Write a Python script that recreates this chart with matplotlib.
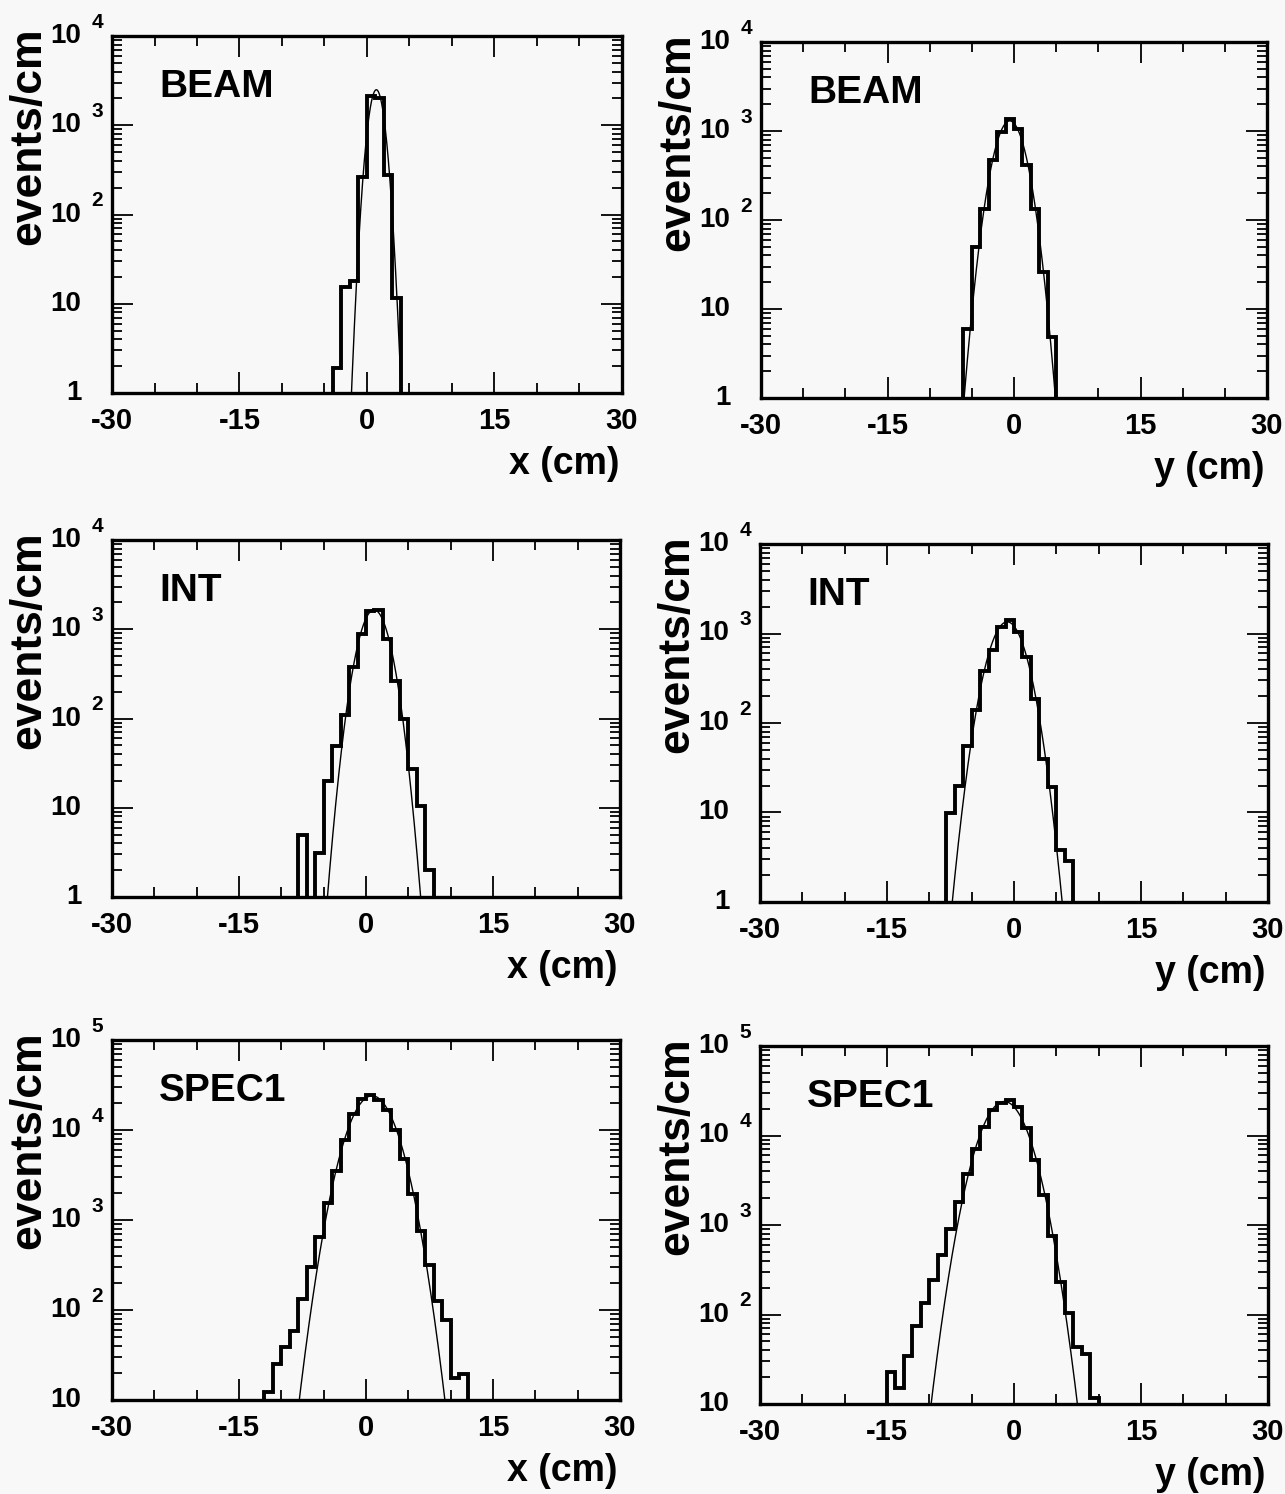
'''
Beam profiles at the BEAM, INT and SPEC1 planes, x and y, with gaussian fits.
'''

import numpy as np
import matplotlib.pyplot as plt
from matplotlib import transforms
from matplotlib.ticker import MultipleLocator, LogLocator, NullFormatter

plt.rcParams['font.family'] = ['Liberation Sans', 'DejaVu Sans']
plt.rcParams['font.weight'] = 'bold'
plt.rcParams['axes.unicode_minus'] = False

# histograms, 1 cm bins, counts (events/cm)
beam_x_start = -4
beam_x_counts = [1.9, 15.6, 18, 263, 2120, 2000, 280, 11.7]
beam_y_start = -6
beam_y_counts = [5.9, 50, 133, 470, 970, 1370, 1060, 420, 132, 26, 4.8]

int_x_start = -8
int_x_counts = [5, 0, 3.1, 19.7, 49, 110, 382, 890, 1600, 1650, 780, 260, 100, 27, 10.4, 2.0]
int_y_start = -8
int_y_counts = [9.9, 19.6, 56, 139, 380, 650, 1170, 1410, 1050, 550, 187, 40, 19.3, 3.8, 2.9]

spec1_x_start = -12
spec1_x_counts = [12.3, 25, 39, 59, 132, 298, 647, 1560, 3460, 7760, 14900, 22300,
                  24300, 21600, 16600, 10000, 4770, 1960, 760, 315, 126, 78, 17.4, 19.6]
spec1_y_start = -15
spec1_y_counts = [22.6, 15, 34, 75, 135, 245, 460, 910, 1820, 3720, 7050, 12600, 19500,
                  23200, 25000, 21000, 12000, 5300, 2150, 760, 230, 105, 43, 36, 11.7]

# gaussian fits: amplitude, mean, sigma (cm)
beam_x_fit = (2500, 1.1, 0.74)
beam_y_fit = (1300, -0.5, 1.43)
int_x_fit = (1650, 0.95, 1.43)
int_y_fit = (1350, -0.8, 1.71)
spec1_x_fit = (24000, 0.72, 2.18)
spec1_y_fit = (24000, -1.15, 2.19)

x_ticks = [-30, -15, 0, 15, 30]
x_tick_labels = ['-30', '-15', '0', '15', '30']

W, H = 1285, 1494
fig = plt.figure(figsize=(W / 100, H / 100), dpi=100)
bg = '#f8f8f8'
fig.patch.set_facecolor(bg)

# (name, axis label, start, counts, fit, decade range, [left, top, right, bottom] px)
panels = [
    ('BEAM', 'x (cm)', beam_x_start, beam_x_counts, beam_x_fit, (0, 4), [112, 36, 622, 393]),
    ('BEAM', 'y (cm)', beam_y_start, beam_y_counts, beam_y_fit, (0, 4), [761, 42, 1267, 398]),
    ('INT', 'x (cm)', int_x_start, int_x_counts, int_x_fit, (0, 4), [112, 540, 620, 897]),
    ('INT', 'y (cm)', int_y_start, int_y_counts, int_y_fit, (0, 4), [760, 544, 1268, 902]),
    ('SPEC1', 'x (cm)', spec1_x_start, spec1_x_counts, spec1_x_fit, (1, 5), [112, 1040, 620, 1400]),
    ('SPEC1', 'y (cm)', spec1_y_start, spec1_y_counts, spec1_y_fit, (1, 5), [760, 1046, 1268, 1404]),
]

xs = np.linspace(-30, 30, 2401)

for name, xlab, start, counts, fit, (e_lo, e_hi), (l, t, r, b) in panels:
    ax = fig.add_axes([l / W, 1 - b / H, (r - l) / W, (b - t) / H])
    ax.set_facecolor(bg)
    ymin, ymax = 10.0 ** e_lo, 10.0 ** e_hi
    ax.set_yscale('log')
    ax.set_xlim(-30, 30)
    ax.set_ylim(ymin, ymax)

    counts = np.array(counts, dtype=float)
    edges = start + np.arange(len(counts) + 1)
    floor = ymin * 0.3
    ax.stairs(np.maximum(counts, floor), edges, baseline=floor, color='black', lw=2.8)

    amp, mu, sig = fit
    ax.plot(xs, amp * np.exp(-0.5 * ((xs - mu) / sig) ** 2), color='black', lw=1.0)

    for s in ax.spines.values():
        s.set_linewidth(2.4)

    ax.set_xticks(x_ticks)
    ax.set_xticklabels(x_tick_labels, fontsize=21, fontweight='bold')
    ax.xaxis.set_minor_locator(MultipleLocator(5))
    ax.yaxis.set_major_locator(LogLocator(base=10, numticks=10))
    ax.yaxis.set_minor_locator(LogLocator(base=10, subs=np.arange(2, 10), numticks=20))
    ax.yaxis.set_major_formatter(NullFormatter())
    ax.yaxis.set_minor_formatter(NullFormatter())
    ax.tick_params(which='both', direction='in', top=True, right=True, width=1.3)
    ax.tick_params(which='major', length=15)
    ax.tick_params(which='minor', length=7.5)
    ax.tick_params(axis='x', which='major', pad=10)

    # PAW style decade labels: "10" with a raised exponent
    base_tr = transforms.offset_copy(ax.get_yaxis_transform(), fig=fig, x=-22, y=0, units='points')
    sup_tr = transforms.offset_copy(ax.get_yaxis_transform(), fig=fig, x=-15, y=10, units='points')
    for e in range(e_lo, e_hi + 1):
        ax.text(0, 10.0 ** e, '1' if e == 0 else '10', transform=base_tr,
                ha='right', va='center', fontsize=20, fontweight='bold')
        if e >= 2:
            ax.text(0, 10.0 ** e, str(e), transform=sup_tr,
                    ha='left', va='center', fontsize=15, fontweight='bold')

    ax.annotate(name, xy=(0, 1), xycoords='axes fraction', xytext=(34, -44),
                textcoords='offset points', ha='left', va='baseline',
                fontsize=28, fontweight='bold')
    ax.annotate(xlab, xy=(1, 0), xycoords='axes fraction', xytext=(-2, -51),
                textcoords='offset points', ha='right', va='center',
                fontsize=27, fontweight='bold')
    ax.annotate('events/cm', xy=(0, 1), xycoords='axes fraction', xytext=(-60, 6),
                textcoords='offset points', ha='center', va='top', rotation=90,
                fontsize=32, fontweight='bold')

plt.savefig('out.png', dpi=100, facecolor=bg)
